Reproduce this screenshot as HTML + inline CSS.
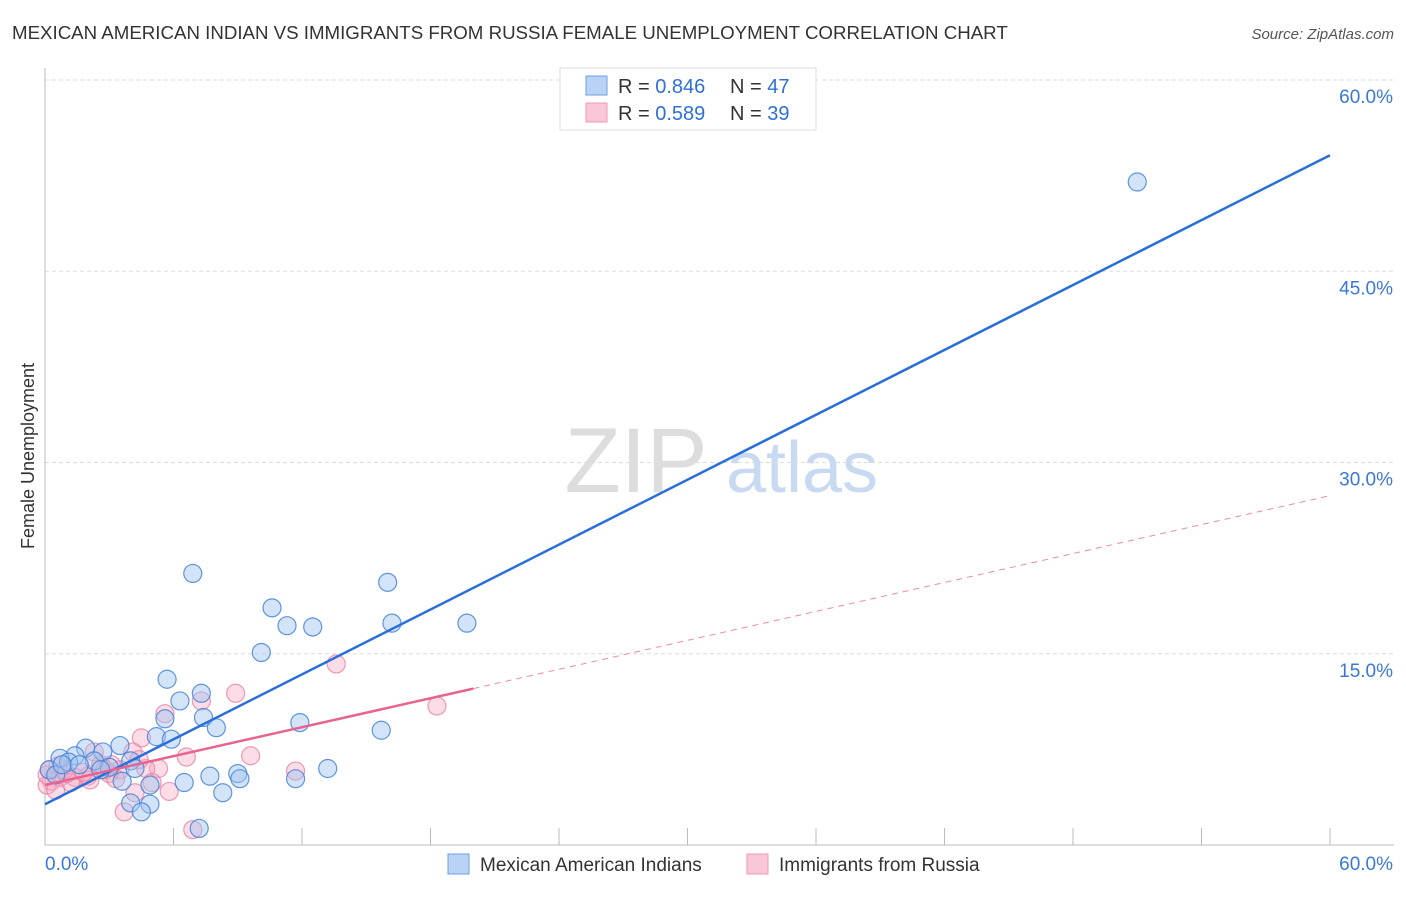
<!DOCTYPE html>
<html><head><meta charset="utf-8"><style>
body{margin:0;background:#fff;font-family:"Liberation Sans",sans-serif;}
svg text{font-family:"Liberation Sans",sans-serif;}
</style></head><body>
<svg id="chart" width="1406" height="892">
<text x="12" y="39" font-size="18.7" fill="#333">MEXICAN AMERICAN INDIAN VS IMMIGRANTS FROM RUSSIA FEMALE UNEMPLOYMENT CORRELATION CHART</text>
<text x="1394" y="39" font-size="15" fill="#555" font-style="italic" text-anchor="end">Source: ZipAtlas.com</text>
<text x="34" y="456" font-size="18" fill="#333" text-anchor="middle" transform="rotate(-90 34 456)">Female Unemployment</text>
<g><text x="636" y="492" font-size="92" fill="#ddd" font-family="Liberation Serif" text-anchor="middle">ZIP</text><text x="802" y="492" font-size="72" fill="#c8daf2" text-anchor="middle">atlas</text></g>
<g id="grid"></g><g id="marks"></g>
<g>
<rect x="560" y="68" width="256" height="62" fill="#fff" stroke="#ddd"/>
<rect x="586" y="76" width="21" height="19" fill="#b9d3f5" stroke="#6e9fe0"/>
<rect x="586" y="103" width="21" height="19" fill="#f9c7d6" stroke="#ee9ab5"/>
<text x="618" y="93" font-size="20" fill="#333">R = <tspan fill="#2f6fd6">0.846</tspan></text>
<text x="730" y="93" font-size="20" fill="#333">N = <tspan fill="#2f6fd6">47</tspan></text>
<text x="618" y="120" font-size="20" fill="#333">R = <tspan fill="#2f6fd6">0.589</tspan></text>
<text x="730" y="120" font-size="20" fill="#333">N = <tspan fill="#2f6fd6">39</tspan></text>
</g>
<g>
<rect x="448" y="854" width="21" height="20" fill="#b9d3f5" stroke="#6e9fe0"/>
<text x="480" y="871" font-size="19" fill="#333">Mexican American Indians</text>
<rect x="747" y="854" width="21" height="20" fill="#f9c7d6" stroke="#ee9ab5"/>
<text x="779" y="871" font-size="19" fill="#333">Immigrants from Russia</text>
</g>
</svg>
<script>
const yTicks=[15,30,45,60];
const yTickLabels=["15.0%","30.0%","45.0%","60.0%"];
const xTickLabels=["0.0%","60.0%"];
const blueX=[51.0,6.9,16.0,10.6,11.3,12.5,16.2,19.7,10.1,5.7,7.3,6.3,5.6,7.4,8.0,11.9,15.7,5.2,5.9,3.5,1.9,2.7,1.4,0.7,1.1,2.3,4.0,4.2,3.0,7.7,9.0,9.1,6.5,3.6,4.9,11.7,13.2,8.3,4.0,4.9,4.5,7.2,0.2,0.5,0.8,2.6,1.6];
const blueY=[52.0,21.3,20.6,18.6,17.2,17.1,17.4,17.4,15.1,13.0,11.9,11.3,9.9,10.0,9.2,9.6,9.0,8.5,8.3,7.8,7.6,7.3,7.0,6.8,6.5,6.6,6.6,6.0,6.1,5.4,5.6,5.2,4.9,5.0,4.7,5.2,6.0,4.1,3.3,3.2,2.6,1.3,5.9,5.5,6.3,5.9,6.3];
const pinkX=[13.6,8.9,7.3,5.6,18.3,4.5,6.6,9.6,2.3,4.1,5.3,11.7,4.7,3.5,3.0,2.0,1.4,0.7,0.3,0.1,0.9,2.6,4.2,5.0,5.8,3.7,6.9,0.6,2.1,3.1,1.2,0.5,0.1,4.4,2.8,1.8,1.0,0.2,3.3];
const pinkY=[14.2,11.9,11.3,10.3,10.9,8.4,6.9,7.0,7.3,7.3,6.0,5.8,6.0,5.9,5.6,5.4,5.3,5.3,5.0,4.7,5.9,6.3,4.1,4.9,4.2,2.6,1.2,6.2,5.1,6.3,4.9,4.3,5.5,6.7,5.9,5.7,5.6,5.9,5.2];
const blueTrend=[3.2,54.1];
const pinkTrend=[4.7,27.4];
const pinkSolidEnd=20;
const NS="http://www.w3.org/2000/svg";
const X0=45,X1=1330,Y0=845,Y60=80;
const sx=v=>X0+v*(X1-X0)/60, sy=v=>Y0-v*(Y0-Y60)/60;
function mk(t,a,p){const e=document.createElementNS(NS,t);for(const k in a)e.setAttribute(k,a[k]);p.appendChild(e);return e;}
const grid=document.getElementById('grid'),marks=document.getElementById('marks');
yTicks.forEach((t,i)=>{
 const l=mk('line',{x1:X0,x2:1394,y1:sy(t),y2:sy(t),stroke:'#ddd','stroke-dasharray':'4,3'},grid);
 
 
 const tx=mk('text',{x:1393,y:sy(t)+23,'font-size':19,fill:'#3a78d8','text-anchor':'end'},grid);
 tx.textContent=yTickLabels[i];
 
 
});
const ax=mk('line',{x1:X0,x2:1394,y1:Y0,y2:Y0,stroke:'#bbb'},grid);


const ay=mk('line',{x1:X0,x2:X0,y1:68,y2:Y0,stroke:'#bbb'},grid);


for(let i=1;i<=10;i++){
 const tk=mk('line',{x1:sx(i*6),x2:sx(i*6),y1:828,y2:Y0,stroke:'#bbb'},grid);
 
 
}
[[0,'start',45],[60,'end',1393]].forEach((d,i)=>{
 const tx=mk('text',{x:d[2],y:870,'font-size':19,fill:'#3a78d8','text-anchor':d[1]},grid);
 tx.textContent=xTickLabels[i];
 
 
});
function pts(xs,ys,fill,stroke,name){
 xs.forEach((x,i)=>{
  const c=mk('circle',{cx:sx(x),cy:sy(ys[i]),r:9,fill:fill,stroke:stroke,'stroke-width':1.2},marks);
  
  
 });
}
pts(pinkX,pinkY,'rgba(246,168,195,0.4)','rgba(232,130,165,0.8)','point-russia');
pts(blueX,blueY,'rgba(160,196,240,0.45)','rgba(70,130,215,0.85)','point-mexican');
const bl=mk('line',{x1:sx(0),y1:sy(blueTrend[0]),x2:sx(60),y2:sy(blueTrend[1]),stroke:'#2a6fd8','stroke-width':2.5},marks);


const pm=v=>pinkTrend[0]+(pinkTrend[1]-pinkTrend[0])*v/60;
const ps=mk('line',{x1:sx(0),y1:sy(pm(0)),x2:sx(pinkSolidEnd),y2:sy(pm(pinkSolidEnd)),stroke:'#e8638f','stroke-width':2.5},marks);


const pd=mk('line',{x1:sx(pinkSolidEnd),y1:sy(pm(pinkSolidEnd)),x2:sx(60),y2:sy(pm(60)),stroke:'#eb8aaa','stroke-width':1,'stroke-dasharray':'6,5'},marks);


</script>
</body></html>
